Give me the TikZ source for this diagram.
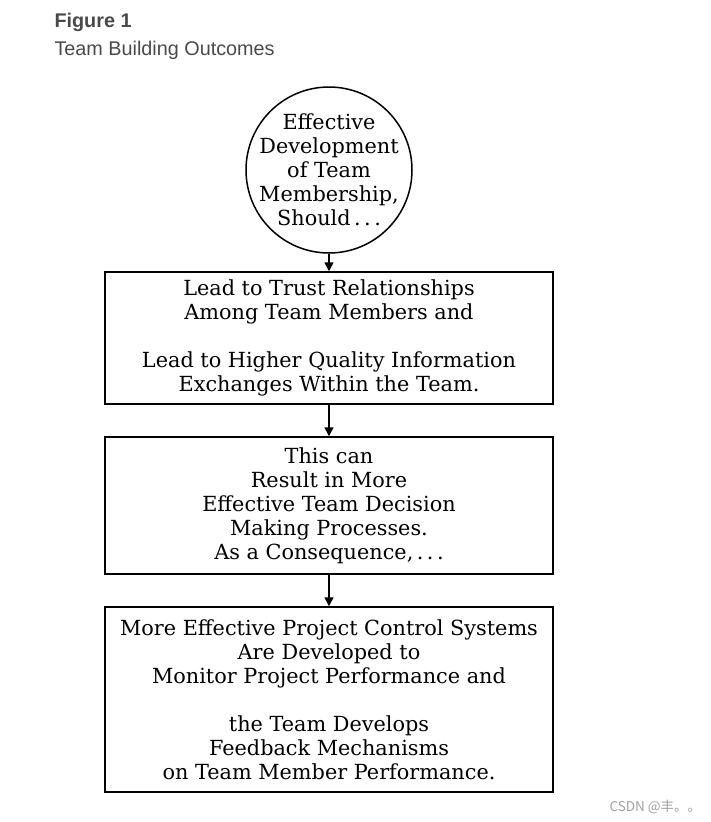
\documentclass[tikz,border=0pt]{standalone}
\usepackage{fontspec}
\setmainfont{DejaVu Serif}
\newfontfamily\headfont{Liberation Sans}
\newfontfamily\cjkfont{Noto Sans CJK SC}
\usetikzlibrary{arrows.meta,positioning}
\definecolor{captiongray}{HTML}{4A4A4A}
\definecolor{markgray}{HTML}{A0A0A0}

\begin{document}
\begin{tikzpicture}[
  x=1pt, y=-1pt, >={Triangle[length=9pt,width=9pt]},
  every node/.style={font=\fontsize{20.8}{24}\selectfont, align=center},
  stage/.style={draw, line width=1.5pt, minimum width=448pt, inner sep=0pt},
  start/.style={draw, circle, line width=1.5pt, minimum size=166pt, inner sep=0pt},
  flow/.style={->, line width=1.6pt},
]
\useasboundingbox (0,0) rectangle (711,822);
\node[anchor=base west, text=captiongray, font=\headfont\bfseries\fontsize{19.8}{24}\selectfont]
  (figno) at (51,27) {Figure 1};
\node[anchor=base west, text=captiongray, font=\headfont\fontsize{19.8}{24}\selectfont]
  (figtitle) at (51,55) {Team Building Outcomes};
\node[start, label={[align=center]center:Effective\\ Development\\ of Team\\
  Membership,\\ Should\,.\,.\,.}] (member) at (329,170) {};
\node[stage, minimum height=132pt] (trust) at (329,338)
  {Lead to Trust Relationships\\ Among Team Members and\\[24pt]
   Lead to Higher Quality Information\\ Exchanges Within the Team.};
\node[stage, minimum height=137pt] (decide) at (329,505.5)
  {This can\\ Result in More\\ Effective Team Decision\\ Making Processes.\\
   As a Consequence,\,.\,.\,.};
\node[stage, minimum height=185pt] (control) at (329,699.5)
  {More Effective Project Control Systems\\ Are Developed to\\
   Monitor Project Performance and\\[24pt] the Team Develops\\
   Feedback Mechanisms\\ on Team Member Performance.};
\draw[flow] (member) -- (trust);
\draw[flow] (trust) -- (decide);
\draw[flow] (decide) -- (control);
\node[anchor=base west, text=markgray, font=\cjkfont\fontsize{13.5}{16}\selectfont]
  (mark) at (606,811) {CSDN @丰。。};
\end{tikzpicture}
\end{document}
